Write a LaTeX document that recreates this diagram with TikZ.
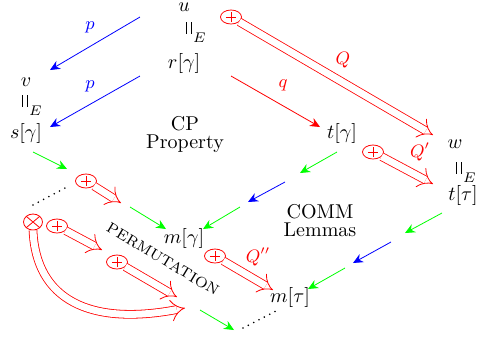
\documentclass[tikz,border=0pt]{standalone}
\usepackage{amsmath,amssymb}
\usepackage{tikz}
\usetikzlibrary{arrows.meta,positioning,shapes.geometric}
\newcommand{\eqE}{\raisebox{2.2pt}{\rule{0.45pt}{6pt}\hspace{1.8pt}\rule{0.45pt}{6pt}}\hspace{0.6pt}\raisebox{-2pt}{$\scriptstyle E$}}
\tikzset{
  term/.style={anchor=base,inner sep=1pt},
  lbl/.style={font=\small,inner sep=1pt},
  sarr/.style={-{Stealth[length=5pt,width=4.5pt]},thin},
  parr/.style={sarr,blue},
  garr/.style={sarr,green},
  rarr/.style={sarr,red},
  dblarr/.style={draw=red,double=white,double distance=3.5pt,thin,-{Implies}},
  dots/.style={line width=0.9pt,line cap=round,dash pattern=on 0pt off 3pt},
  plusnode/.style={ellipse,draw=red,thin,minimum width=10.5pt,minimum height=7pt,inner sep=0pt,
    path picture={\draw[red,thin] (path picture bounding box.center) +(-2.6pt,0) -- +(2.6pt,0)
                  (path picture bounding box.center) +(0,-2.6pt) -- +(0,2.6pt);}},
  crossnode/.style={ellipse,draw=red,thin,minimum width=9.5pt,minimum height=8pt,inner sep=0pt,
    path picture={\draw[red] (path picture bounding box.north west) -- (path picture bounding box.south east)
                  (path picture bounding box.north east) -- (path picture bounding box.south west);}},
}

\begin{document}
\begin{tikzpicture}[x=0.5pt,y=-0.5pt]
    \useasboundingbox (0,0) rectangle (481,339);

    % terms
    \node[term] (u)  at (184,11)  {$u$};
    \node[term] (e1) at (196,38)  {\eqE};
    \node[term] (r)  at (184,68)  {$r[\gamma]$};
    \node[term] (v)  at (26,86)   {$v$};
    \node[term] (e2) at (32,111)  {\eqE};
    \node[term] (s)  at (26,138)  {$s[\gamma]$};
    \node[term] (tg) at (342,138) {$t[\gamma]$};
    \node[term] (w)  at (455,148) {$w$};
    \node[term] (e3) at (466,178) {\eqE};
    \node[term] (tt) at (463,200) {$t[\tau]$};
    \node[term] (mg) at (184,243) {$m[\gamma]$};
    \node[term] (mt) at (290,302) {$m[\tau]$};

    \node[term] (cp)   at (185,130) {CP};
    \node[term,below=0pt of cp]     {Property};
    \node[term] (comm) at (320,218) {COMM};
    \node[term,below=0pt of comm]   {Lemmas};
    \node[font=\fontsize{7.4}{8}\selectfont,rotate=-31] (perm) at (163,259) {PERMUTATION};

    % small arrows
    \coordinate (b1s) at (140,17);  \coordinate (b1e) at (50,70);
    \coordinate (b2s) at (140,76);  \coordinate (b2e) at (50,127);
    \coordinate (b3s) at (285,182); \coordinate (b3e) at (248,202);
    \coordinate (b4s) at (391,242); \coordinate (b4e) at (353,263);
    \coordinate (q1s) at (231,76);  \coordinate (q1e) at (320,127);
    \coordinate (g1s) at (33,152);  \coordinate (g1e) at (67,169);
    \coordinate (g2s) at (130,207); \coordinate (g2e) at (166,229);
    \coordinate (g3s) at (337,152); \coordinate (g3e) at (300,173);
    \coordinate (g4s) at (240,207); \coordinate (g4e) at (203,229);
    \coordinate (g5s) at (442,213); \coordinate (g5e) at (405,233);
    \coordinate (g6s) at (345,268); \coordinate (g6e) at (308,289);
    \coordinate (g7s) at (200,310); \coordinate (g7e) at (234,330);

    \draw[parr] (b1s) -- (b1e);
    \node[lbl,text=blue] (p1) at (90,27) {$p$};
    \draw[parr] (b2s) -- (b2e);
    \node[lbl,text=blue] (p2) at (90,86) {$p$};
    \draw[parr] (b3s) -- (b3e);
    \draw[parr] (b4s) -- (b4e);
    \draw[rarr] (q1s) -- (q1e);
    \node[lbl,text=red] (q1) at (283,85) {$q$};
    \foreach \g in {g1,g2,g3,g4,g5,g6,g7}
        \draw[garr] (\g s) -- (\g e);

    % dots
    \coordinate (d1s) at (33,205);  \coordinate (d1e) at (65,188);
    \coordinate (d2s) at (243,328); \coordinate (d2e) at (276,311);
    \draw[dots] (d1s) -- (d1e);
    \draw[dots] (d2s) -- (d2e);

    % marked positions and their rewrites
    \node[plusnode]  (ctop) at (231,17)  {};
    \node[plusnode]  (crt)  at (373,152) {};
    \node[plusnode]  (cmid) at (215,256) {};
    \node[plusnode]  (ca)   at (86,181)  {};
    \node[crossnode] (cx)   at (33,222)  {};
    \node[plusnode]  (cb)   at (57,226)  {};
    \node[plusnode]  (cc)   at (117,262) {};

    \coordinate (ctopend) at (433,135);
    \coordinate (crtend)  at (433,184);
    \coordinate (cmidend) at (273,290);
    \coordinate (caend)   at (121,203);
    \coordinate (cbend)   at (102,250);
    \coordinate (ccend)   at (177,297);
    \coordinate (cxend)   at (185,308);

    \draw[dblarr] (ctop) -- (ctopend);
    \draw[dblarr] (crt)  -- (crtend);
    \draw[dblarr] (cmid) -- (cmidend);
    \draw[dblarr] (ca)   -- (caend);
    \draw[dblarr] (cb)   -- (cbend);
    \draw[dblarr] (cc)   -- (ccend);
    \draw[dblarr] (cx.south) .. controls (36,300) and (90,326) .. (cxend);

    \node[lbl,text=red] (lq)  at (343,60)  {$Q$};
    \node[lbl,text=red] (lq1) at (420,152) {$Q'$};
    \node[lbl,text=red] (lq2) at (258,257) {$Q''$};
\end{tikzpicture}
\end{document}
